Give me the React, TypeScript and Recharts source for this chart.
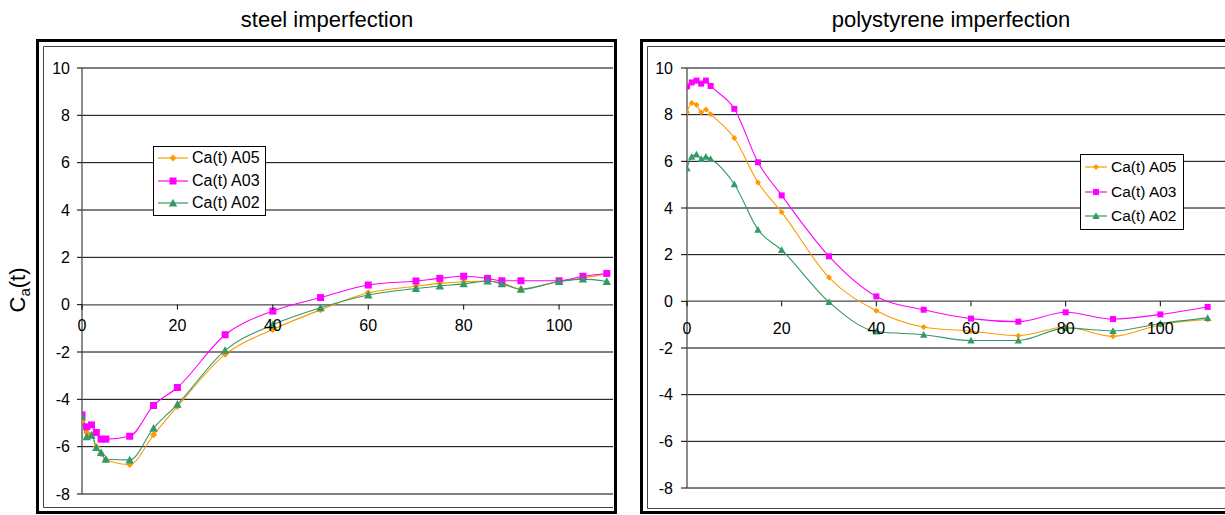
import React from "react";
import { LineChart, Line, XAxis, YAxis, CartesianGrid, ReferenceLine, Legend } from "recharts";

const FONT = "Arial, 'Liberation Sans', Helvetica, sans-serif";

// steel imperfection
const steelT = [0, 1, 2, 3, 4, 5, 10, 15, 20, 30, 40, 50, 60, 70, 75, 80, 85, 88, 92, 100, 105, 110];
const steelA05 = [-4.9, -5.4, -5.5, -6.0, -6.3, -6.55, -6.75, -5.5, -4.3, -2.1, -1.05, -0.22, 0.5, 0.78, 0.9, 0.97, 1.0, 0.92, 0.66, 0.98, 1.13, 1.3];
const steelA03 = [-4.66, -5.16, -5.08, -5.4, -5.68, -5.68, -5.56, -4.26, -3.5, -1.27, -0.27, 0.3, 0.83, 1.0, 1.11, 1.2, 1.11, 1.01, 1.01, 1.01, 1.2, 1.32];
const steelA02 = [-4.74, -5.58, -5.52, -6.04, -6.25, -6.53, -6.56, -5.22, -4.21, -1.93, -0.85, -0.13, 0.41, 0.68, 0.79, 0.88, 1.0, 0.88, 0.65, 0.98, 1.08, 0.98];

// polystyrene imperfection
const polyT = [0, 1, 2, 3, 4, 5, 10, 15, 20, 30, 40, 50, 60, 70, 80, 90, 100, 110];
const polyA05 = [8.1, 8.5, 8.43, 8.1, 8.22, 8.02, 7.0, 5.09, 3.82, 1.02, -0.4, -1.1, -1.28, -1.47, -1.1, -1.5, -1.0, -0.78];
const polyA03 = [9.21, 9.38, 9.46, 9.33, 9.46, 9.23, 8.25, 5.96, 4.54, 1.93, 0.21, -0.36, -0.74, -0.87, -0.47, -0.76, -0.56, -0.24];
const polyA02 = [5.7, 6.2, 6.29, 6.1, 6.2, 6.1, 5.02, 3.07, 2.2, -0.03, -1.29, -1.43, -1.68, -1.68, -1.15, -1.27, -0.95, -0.71];

const yTicks = [-8, -6, -4, -2, 0, 2, 4, 6, 8, 10];
const xTicks = [0, 20, 40, 60, 80, 100];

const SERIES = [
  { key: "a05", name: "Ca(t) A05", color: "#FF9900", shape: "diamond" },
  { key: "a03", name: "Ca(t) A03", color: "#FF00FF", shape: "square" },
  { key: "a02", name: "Ca(t) A02", color: "#339966", shape: "triangle" },
];

const steelData = steelT.map((t, i) => ({ t, a05: steelA05[i], a03: steelA03[i], a02: steelA02[i] }));
const polyData = polyT.map((t, i) => ({ t, a05: polyA05[i], a03: polyA03[i], a02: polyA02[i] }));

function Marker({ cx, cy, shape, color, size }: any) {
  if (cx == null || cy == null) return null;
  const h = size / 2;
  if (shape === "square") {
    return <rect x={cx - h} y={cy - h} width={size} height={size} fill={color} />;
  }
  if (shape === "triangle") {
    const t = h + 0.7;
    return <polygon points={`${cx},${cy - t} ${cx + t},${cy + h} ${cx - t},${cy + h}`} fill={color} />;
  }
  return <polygon points={`${cx},${cy - h} ${cx + h},${cy} ${cx},${cy + h} ${cx - h},${cy}`} fill={color} />;
}

function LegendBox({ rowH, lineLen, markerSize, width, pad, fontSize }: any) {
  return (
    <div
      style={{
        width,
        border: "1px solid #000",
        background: "#fff",
        fontFamily: FONT,
        fontSize,
        boxSizing: "border-box",
      }}
    >
      {SERIES.map((s) => (
        <div key={s.key} style={{ display: "flex", alignItems: "center", height: rowH }}>
          <svg width={lineLen + pad + 4} height={12} style={{ flex: "none" }}>
            <line x1={pad} x2={pad + lineLen} y1={6} y2={6} stroke={s.color} strokeWidth={1.2} />
            <Marker cx={pad + lineLen / 2} cy={6} shape={s.shape} color={s.color} size={markerSize} />
          </svg>
          <span style={{ whiteSpace: "nowrap" }}>{s.name}</span>
        </div>
      ))}
    </div>
  );
}

function Panel({ data, cfg }: any) {
  const plotH = cfg.height - cfg.margin.top - cfg.margin.bottom - 1;
  const zeroY = cfg.margin.top + (plotH * 10) / 18;
  return (
    <div style={{ position: "absolute", left: cfg.left, top: 0 }}>
      <LineChart width={cfg.width} height={cfg.height} data={data} margin={cfg.margin}>
        <CartesianGrid vertical={false} stroke="#000" strokeWidth={1} />
        <XAxis
          type="number"
          dataKey="t"
          domain={[0, cfg.xMax]}
          ticks={xTicks}
          interval={0}
          height={1}
          allowDataOverflow
          axisLine={false}
          tickLine={false}
          tick={(p: any) => (
            <g key={`xt-${p.index}`}>
              <line x1={p.x} x2={p.x} y1={zeroY} y2={zeroY + 5} stroke="#000" />
              <text
                x={p.x}
                y={zeroY + cfg.xLabelDy}
                textAnchor="middle"
                fontFamily={FONT}
                fontSize={cfg.fontSize}
                fill="#000"
              >
                {p.payload.value}
              </text>
            </g>
          )}
        />
        <YAxis
          type="number"
          domain={[-8, 10]}
          ticks={yTicks}
          interval={0}
          width={cfg.yAxisWidth}
          axisLine={{ stroke: "#666", strokeWidth: 1.5 }}
          tickLine={{ stroke: "#000" }}
          tickSize={cfg.tickSize}
          tickMargin={cfg.tickMargin}
          tick={{ fill: "#000", fontSize: cfg.fontSize, fontFamily: FONT }}
        />
        <ReferenceLine y={0} stroke="#777" strokeWidth={1.5} />
        {SERIES.map((s) => (
          <Line
            key={s.key}
            dataKey={s.key}
            name={s.name}
            type="monotone"
            stroke={s.color}
            strokeWidth={1.1}
            isAnimationActive={false}
            dot={(p: any) => (
              <Marker
                key={`${s.key}-${p.index}`}
                cx={p.cx}
                cy={p.cy}
                shape={s.shape}
                color={s.color}
                size={cfg.markerSize}
              />
            )}
            activeDot={false}
          />
        ))}
        <Legend
          layout="vertical"
          align="center"
          verticalAlign="middle"
          wrapperStyle={{ left: cfg.legend.left, top: cfg.legend.top, width: cfg.legend.width }}
          content={() => (
            <LegendBox
              rowH={cfg.legend.rowH}
              lineLen={cfg.legend.lineLen}
              markerSize={cfg.legend.markerSize}
              width={cfg.legend.width}
              pad={cfg.legend.pad}
              fontSize={cfg.legend.fontSize}
            />
          )}
        />
      </LineChart>
    </div>
  );
}

const steelCfg = {
  left: 0,
  width: 620,
  height: 515,
  margin: { top: 68, bottom: 20, left: 22, right: 7 },
  yAxisWidth: 60,
  xMax: 111.3,
  tickSize: 5,
  tickMargin: 7,
  xLabelDy: 26,
  fontSize: 16,
  markerSize: 7,
  legend: { left: 153, top: 146, width: 113, rowH: 22.5, lineLen: 30, markerSize: 7, pad: 4, fontSize: 16 },
};

const polyCfg = {
  left: 620,
  width: 640,
  height: 515,
  margin: { top: 68, bottom: 26, left: 17, right: 5 },
  yAxisWidth: 50,
  xMax: 120,
  tickSize: 6,
  tickMargin: 8,
  xLabelDy: 33,
  fontSize: 16,
  markerSize: 6,
  legend: { left: 460, top: 154, width: 104, rowH: 24.5, lineLen: 22, markerSize: 6, pad: 4, fontSize: 15.5 },
};

export default function App() {
  return (
    <div
      style={{
        position: "absolute",
        left: 0,
        top: 0,
        width: 1225,
        height: 515,
        overflow: "hidden",
        background: "#fff",
        fontFamily: FONT,
      }}
    >
      <svg width={1225} height={515} style={{ position: "absolute", left: 0, top: 0 }}>
        {/* left frame */}
        <rect x={37.5} y={40.5} width={578} height={472} fill="none" stroke="#000" strokeWidth={3} />
        <path d="M613 46.5 H43.5 V507.5 H613" fill="none" stroke="#444" strokeWidth={1} />
        {/* right frame */}
        <rect x={641.5} y={40.5} width={620} height={472} fill="none" stroke="#000" strokeWidth={3} />
        <path d="M1230 46.5 H647.5 V508.5 H1230" fill="none" stroke="#444" strokeWidth={1} />
        <text x={327} y={27} textAnchor="middle" fontSize={22} fontFamily={FONT} fill="#000">
          steel imperfection
        </text>
        <text x={951} y={27} textAnchor="middle" fontSize={22} fontFamily={FONT} fill="#000">
          polystyrene imperfection
        </text>
        <text transform="translate(25,290) rotate(-90)" textAnchor="middle" fontSize={22} fontFamily={FONT} fill="#000">
          C<tspan fontSize={15} dy={5}>a</tspan>
          <tspan dy={-5}>(t)</tspan>
        </text>
      </svg>
      <Panel data={steelData} cfg={steelCfg} />
      <Panel data={polyData} cfg={polyCfg} />
    </div>
  );
}
